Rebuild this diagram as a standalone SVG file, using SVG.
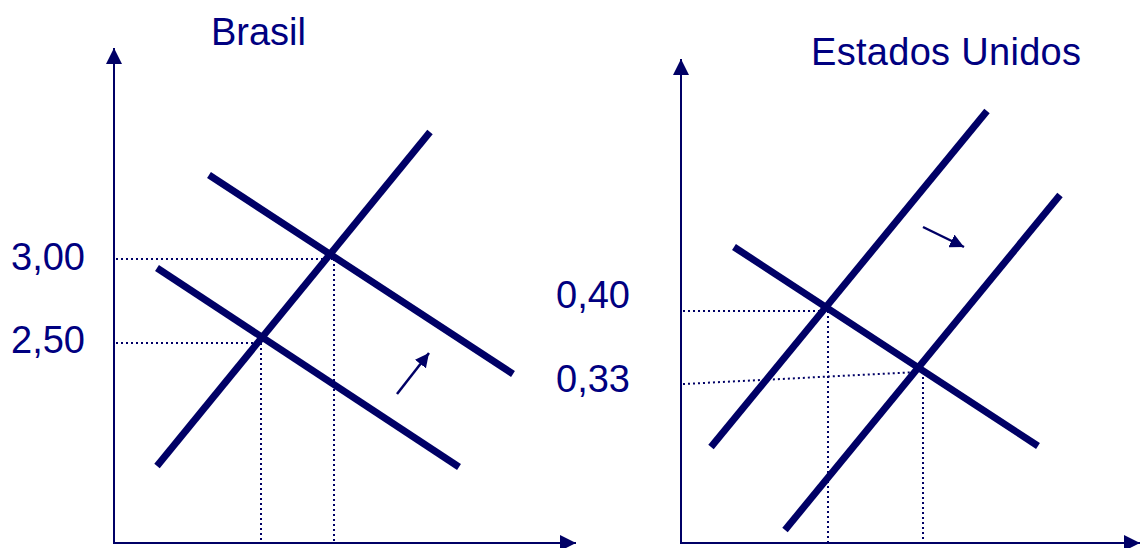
<svg xmlns="http://www.w3.org/2000/svg" width="1140" height="548" viewBox="0 0 1140 548">
<style>
.axis{stroke:#000066;stroke-width:2;fill:none}
.curve{stroke:#000066;stroke-width:7;fill:none}
.dot{stroke:#000066;stroke-width:2;stroke-dasharray:2 3;fill:none}
.shift{stroke:#000066;stroke-width:2.5;fill:none}
.lbl{font-family:"Liberation Sans",Arial,sans-serif;font-size:38px;fill:#000080}
</style>
<defs>
<marker id="ah" viewBox="0 0 16 16" refX="16" refY="8" markerWidth="16" markerHeight="16" markerUnits="userSpaceOnUse" orient="auto">
<path d="M0,0 L16,8 L0,16 Z" fill="#000066"/>
</marker>
<marker id="sh" viewBox="0 0 14 14" refX="14" refY="7" markerWidth="14" markerHeight="14" markerUnits="userSpaceOnUse" orient="auto">
<path d="M0,0 L14,7 L0,14 Z" fill="#000066"/>
</marker>
</defs>
<g id="connectors">
<line class="axis" x1="114" y1="544" x2="114" y2="48" marker-end="url(#ah)"/>
<line class="axis" x1="113" y1="543" x2="576" y2="543" marker-end="url(#ah)"/>
<line class="axis" x1="681" y1="544" x2="681" y2="59" marker-end="url(#ah)"/>
<line class="axis" x1="680" y1="543" x2="1140" y2="543" marker-end="url(#ah)"/>
<line class="dot" x1="116" y1="259" x2="332" y2="259"/>
<line class="dot" x1="116" y1="343" x2="260" y2="343"/>
<line class="dot" x1="334" y1="259" x2="334" y2="542"/>
<line class="dot" x1="261" y1="343" x2="261" y2="542"/>
<line class="dot" x1="683" y1="311" x2="826" y2="311"/>
<line class="dot" x1="683" y1="384" x2="918" y2="372"/>
<line class="dot" x1="828" y1="311" x2="828" y2="542"/>
<line class="dot" x1="923" y1="372" x2="923" y2="542"/>
<line class="shift" x1="397" y1="394" x2="429" y2="353" marker-end="url(#sh)"/>
<line class="shift" x1="923" y1="227" x2="964" y2="247" marker-end="url(#sh)"/>
</g>
<g id="brasil-supply"><line class="curve" x1="157" y1="466" x2="430" y2="132"/></g>
<g id="brasil-demand1"><line class="curve" x1="209" y1="175" x2="513" y2="374"/></g>
<g id="brasil-demand2"><line class="curve" x1="157" y1="268" x2="459" y2="467"/></g>
<g id="eua-supply1"><line class="curve" x1="711" y1="447" x2="987" y2="111"/></g>
<g id="eua-supply2"><line class="curve" x1="785" y1="530" x2="1060" y2="195"/></g>
<g id="eua-demand"><line class="curve" x1="734" y1="247" x2="1038" y2="446"/></g>
<g id="labels">
<text class="lbl" x="211" y="45" textLength="95">Brasil</text>
<text class="lbl" x="811" y="65" textLength="270">Estados Unidos</text>
<text class="lbl" x="11" y="270">3,00</text>
<text class="lbl" x="11" y="353">2,50</text>
<text class="lbl" x="556" y="308">0,40</text>
<text class="lbl" x="556" y="392">0,33</text>
</g>
</svg>
